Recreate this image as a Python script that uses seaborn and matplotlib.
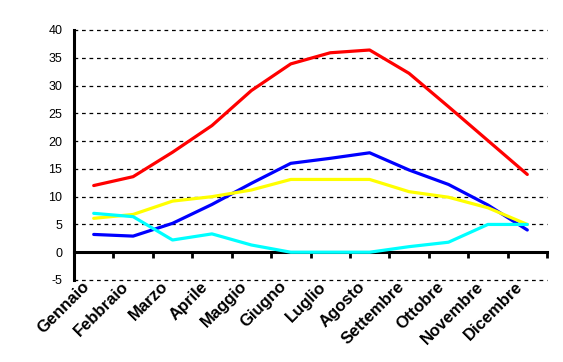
import matplotlib
matplotlib.use('Agg')
import matplotlib.pyplot as plt
from matplotlib.transforms import ScaledTranslation
import seaborn as sns
import pandas as pd
import numpy as np

# months on the horizontal axis
MESI = ['Gennaio', 'Febbraio', 'Marzo', 'Aprile', 'Maggio', 'Giugno',
        'Luglio', 'Agosto', 'Settembre', 'Ottobre', 'Novembre', 'Dicembre']

# values
serie1 = [12.0, 13.6, 18.0, 22.8, 29.1, 33.9, 35.9, 36.4, 32.2, 26.2, 20.1, 14.0]
serie2 = [3.2, 2.9, 5.2, 8.6, 12.4, 16.0, 16.9, 17.9, 14.8, 12.2, 8.5, 4.0]
serie3 = [6.1, 6.8, 9.2, 10.0, 11.2, 13.1, 13.1, 13.1, 10.9, 9.9, 8.0, 5.0]
serie4 = [7.0, 6.4, 2.2, 3.3, 1.3, 0.0, 0.0, 0.0, 1.0, 1.8, 5.0, 5.0]

SERIE = ['Serie1', 'Serie2', 'Serie3', 'Serie4']
COLORI = ['#ff0000', '#0000ff', '#ffff00', '#00ffff']

YTICKS = list(range(-5, 45, 5))

##################################################################################
# build long data frame
df = pd.DataFrame({
    'mese': MESI * 4,
    'valore': serie1 + serie2 + serie3 + serie4,
    'serie': [s for s in SERIE for _ in MESI],
})

sns.set_style('white')
plt.rcParams['font.family'] = ['Liberation Sans', 'DejaVu Sans']
plt.rcParams['axes.unicode_minus'] = False
plt.rcParams['text.color'] = 'black'
plt.rcParams['xtick.color'] = 'black'
plt.rcParams['ytick.color'] = 'black'
plt.rcParams['xtick.labelcolor'] = 'black'
plt.rcParams['ytick.labelcolor'] = 'black'

fig = plt.figure(figsize=(5.63, 3.62), dpi=100)
ax = fig.add_axes([74 / 563, 1 - 280 / 362, 473 / 563, 250 / 362])

sns.lineplot(data=df, x='mese', y='valore', hue='serie', palette=COLORI,
             hue_order=SERIE, linewidth=2.3, legend=False, ax=ax, sort=False)

ymin, ymax = YTICKS[0], YTICKS[-1]
ax.set_ylim(ymin, ymax)
ax.set_xlim(-0.5, len(MESI) - 0.5)
ax.set_yticks(YTICKS)
ax.set_xlabel('')
ax.set_ylabel('')

# dashed horizontal grid
ax.yaxis.grid(True, linestyle=(0, (3, 3)), color='black', linewidth=0.9)
ax.xaxis.grid(False)
ax.set_axisbelow(True)
for gl in ax.yaxis.get_gridlines():
    gl.set_clip_on(False)

for s in ['top', 'right', 'bottom']:
    ax.spines[s].set_visible(False)
ax.spines['left'].set_linewidth(2.2)
ax.spines['left'].set_color('black')

ax.tick_params(axis='y', direction='out', length=4.5, width=2, color='black',
               labelcolor='black', labelsize=9, pad=4)
ax.set_xticks(range(len(MESI)))
ax.set_xticklabels(MESI, rotation=45, ha='right', va='center', color='black',
                   fontweight='bold', fontsize=12, rotation_mode='anchor')
ax.tick_params(axis='x', length=0, pad=3)
shift = ScaledTranslation(-7 / 100, 0, fig.dpi_scale_trans)
for lbl in ax.get_xticklabels():
    lbl.set_transform(lbl.get_transform() + shift)

# category axis drawn at zero, ticks between categories
sec = ax.secondary_xaxis((0 - ymin) / (ymax - ymin))
sec.set_xticks(np.arange(len(MESI) + 1) - 0.5)
sec.set_xticklabels([])
sec.spines['bottom'].set_linewidth(2.2)
sec.spines['bottom'].set_color('black')
sec.tick_params(axis='x', direction='out', length=4, width=2, color='black')

plt.savefig('out.png', dpi=100)
